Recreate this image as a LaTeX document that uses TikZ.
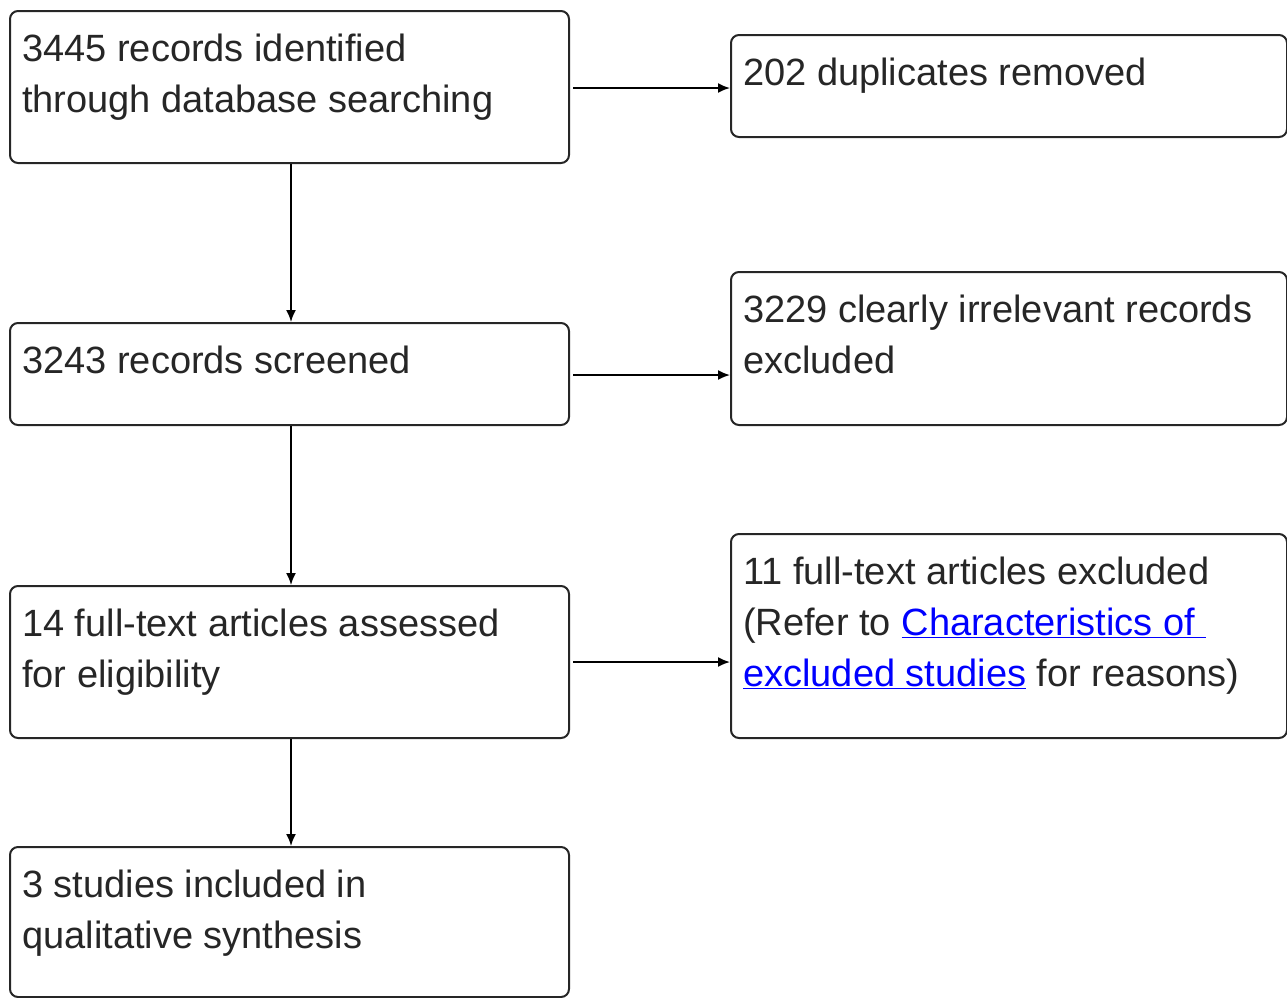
\documentclass[tikz,border=0pt]{standalone}
\usepackage{fontspec}
\setmainfont{Liberation Sans}
\usetikzlibrary{arrows.meta,calc}
\definecolor{linkblue}{RGB}{0,0,255}
\newcommand{\lnk}[1]{\textcolor{linkblue}{\underline{#1}}}
\begin{document}
\begin{tikzpicture}[x=1pt,y=-1pt,
  box/.style={draw=black!85, line width=2pt, rounded corners=8pt, anchor=north west, inner sep=0pt, minimum width=#1},
  box/.default=559,
  txt/.style={anchor=north west, inner sep=0pt, align=left, font=\fontsize{38}{51}\selectfont, text=black!85},
  arr/.style={line width=1.8pt, draw=black, -{Latex[length=12pt,width=10pt]}}]
\useasboundingbox (0,0) rectangle (1287,997);
% left column
\node[box, minimum height=152] (b1) at (9,10) {};
\node[box, minimum height=102] (b3) at (9,322) {};
\node[box, minimum height=152] (b5) at (9,585) {};
\node[box, minimum height=150] (b7) at (9,846) {};
% right column
\node[box=556, minimum height=102] (b2) at (730,34) {};
\node[box=556, minimum height=153] (b4) at (730,271) {};
\node[box=556, minimum height=204] (b6) at (730,533) {};
% texts
\node[txt] (t1) at ($(b1.north west)+(13,0)$) {\rule{0pt}{51pt}3445 records identified\\through database searching};
\node[txt] (t3) at ($(b3.north west)+(13,0)$) {\rule{0pt}{51pt}3243 records screened};
\node[txt] (t5) at ($(b5.north west)+(13,0)$) {\rule{0pt}{51pt}14 full-text articles assessed\\for eligibility};
\node[txt] (t7) at ($(b7.north west)+(13,0)$) {\rule{0pt}{51pt}3 studies included in\\qualitative synthesis};
\node[txt] (t2) at ($(b2.north west)+(13,0)$) {\rule{0pt}{51pt}202 duplicates removed};
\node[txt] (t4) at ($(b4.north west)+(13,0)$) {\rule{0pt}{51pt}3229 clearly irrelevant records\\excluded};
\node[txt] (t6) at ($(b6.north west)+(13,0)$) {\rule{0pt}{51pt}11 full-text articles excluded\\(Refer to \lnk{Characteristics of\ }\\\lnk{excluded studies} for reasons)};
% vertical arrows
\draw[arr] ($(b1.south)+(1.5,0)$) -- ($(b3.north)+(1.5,0)$);
\draw[arr] ($(b3.south)+(1.5,0)$) -- ($(b5.north)+(1.5,0)$);
\draw[arr] ($(b5.south)+(1.5,0)$) -- ($(b7.north)+(1.5,0)$);
% horizontal arrows
\draw[arr, shorten <=3pt] ($(b1.east)+(0,1)$) -- ($(b1.east -| b2.west)+(0,1)$);
\draw[arr, shorten <=3pt] ($(b3.east)+(0,1)$) -- ($(b3.east -| b4.west)+(0,1)$);
\draw[arr, shorten <=3pt] (b5.east) -- (b5.east -| b6.west);
\end{tikzpicture}
\end{document}
